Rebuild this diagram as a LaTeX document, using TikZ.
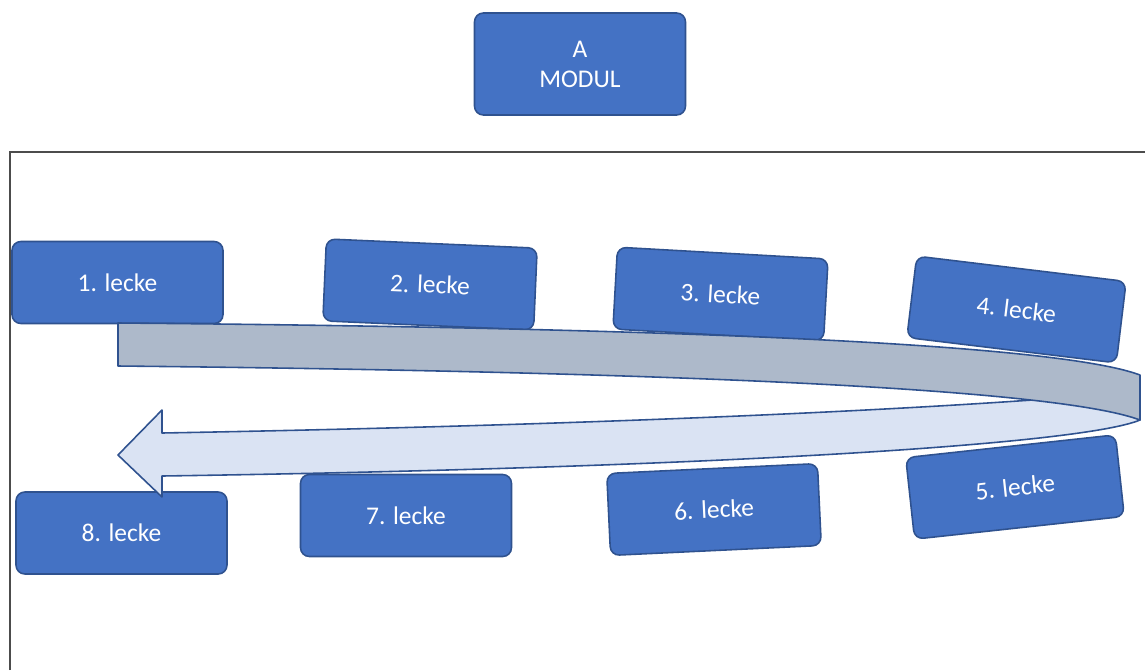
\documentclass[tikz,border=0pt]{standalone}
\usepackage{fontspec}
\setmainfont{Carlito}
\usetikzlibrary{positioning}
\definecolor{boxblue}{HTML}{4472C4}
\definecolor{edgeblue}{HTML}{2F528F}
\definecolor{bandgray}{HTML}{ADB9CA}
\definecolor{bandlight}{HTML}{DAE3F3}
\begin{document}
\begin{tikzpicture}[x=0.02cm,y=-0.02cm,
	lecke/.style={draw=edgeblue,fill=boxblue,line width=0.9pt,rounded corners=5pt,text=white,font=\fontsize{14.5}{17}\selectfont,minimum width=4.22cm,minimum height=1.64cm,inner sep=0pt},
	band/.style={draw=edgeblue,line width=0.9pt,line join=round}]
	\useasboundingbox (0,0) rectangle (1145,670);
	\draw[color=black!70,line width=0.9pt] (10,670)--(10,152)--(1145,152);
	\node[lecke,minimum height=2.04cm,align=center] (modul) at (580,64) {A\\MODUL};
	\node[lecke] (l1) at (117.5,282.5) {1. lecke};
	\node[lecke,rotate=-2.5] (l2) at (430,284.5) {2. lecke};
	\node[lecke,rotate=-3.2] (l3) at (720.5,294) {3. lecke};
	\node[lecke,rotate=-6.9] (l4) at (1016.5,309.5) {4. lecke};
	\node[lecke,rotate=6.2] (l5) at (1015,487) {5. lecke};
	\node[lecke,rotate=2.7] (l6) at (714,509.5) {6. lecke};
	\node[lecke] (l7) at (406,515.5) {7. lecke};
	\node[lecke] (l8) at (121.5,533) {8. lecke};
	\filldraw[band,fill=bandlight] (118,455)--(162,410)--(162,433) .. controls (600,425) and (900,410) .. (1060,398)--(1120,392)--(1140,400)--(1140,420) .. controls (1080,445) and (700,468) .. (162,476)--(162,497)--cycle;
	\filldraw[band,fill=bandgray] (118,323) .. controls (700,328) and (1060,345) .. (1140,375)--(1140,420) .. controls (1060,390) and (700,372) .. (118,366)--cycle;
\end{tikzpicture}
\end{document}
